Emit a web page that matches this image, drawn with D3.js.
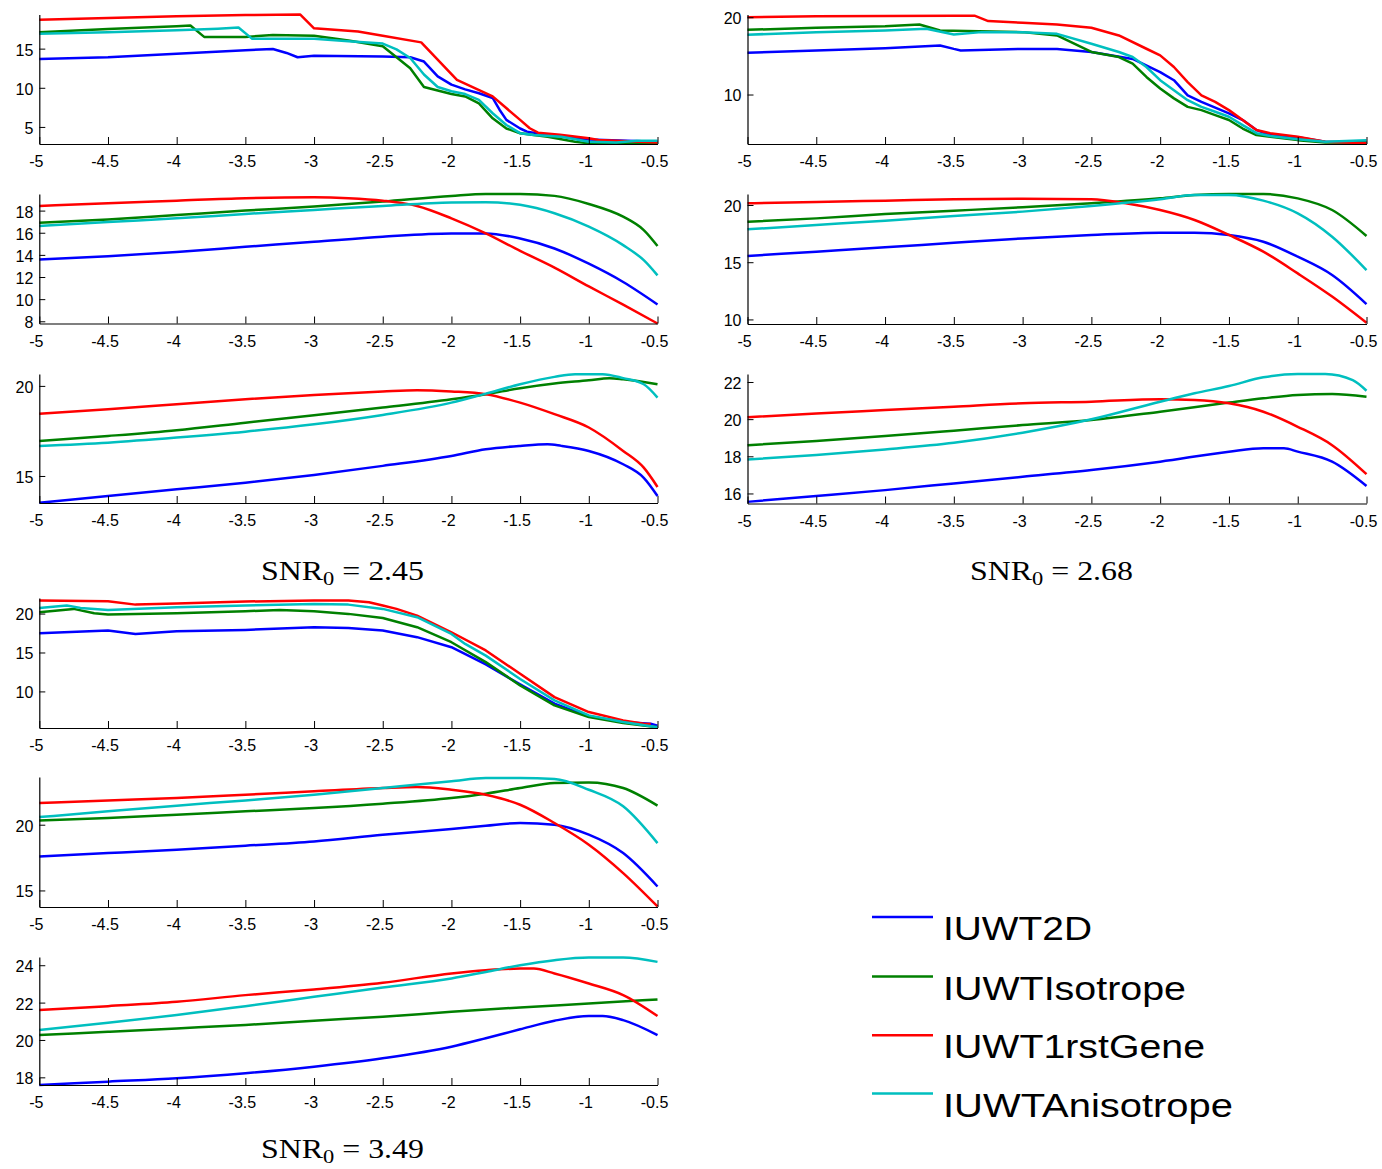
<!DOCTYPE html>
<html><head><meta charset="utf-8">
<script src="https://cdn.jsdelivr.net/npm/d3@7"></script>
<style>
html,body{margin:0;padding:0;background:#fff;}
svg{display:block;}
.tick text{font-family:"Liberation Sans",Arial,sans-serif;font-size:16px;fill:#000;}
</style></head><body>
<svg id="chart" width="1382" height="1169"></svg>
<script>
// ---------------- DATA ----------------
const seriesNames = ["IUWT2D", "IUWTIsotrope", "IUWT1rstGene", "IUWTAnisotrope"];
const xTicks = [-5, -4.5, -4, -3.5, -3, -2.5, -2, -1.5, -1, -0.5];
const snrLabels = ["2.45", "2.68", "3.49"];

// SNR0 = 2.45, panel A
const a245_2D = [[-5,13.68],[-4.5,13.9],[-4,14.35],[-3.5,14.8],[-3.3,14.95],[-3.2,14.45],[-3.12,13.9],[-3.0,14.1],[-2.5,14.0],[-2.3,13.9],[-2.2,13.35],[-2.1,11.45],[-2.0,10.4],[-1.9,9.8],[-1.8,9.3],[-1.7,8.7],[-1.65,7.2],[-1.6,5.9],[-1.5,4.8],[-1.45,4.4],[-1.3,3.97],[-1.0,3.4],[-0.5,3.1]];
const a245_Iso = [[-5,17.1],[-4.5,17.5],[-4,17.85],[-3.9,17.95],[-3.8,16.5],[-3.5,16.5],[-3.3,16.75],[-3,16.65],[-2.75,16.05],[-2.5,15.3],[-2.42,14.2],[-2.3,12.5],[-2.2,10.1],[-2.1,9.65],[-2,9.2],[-1.9,8.9],[-1.8,8.0],[-1.7,6.1],[-1.6,4.8],[-1.5,4.2],[-1.3,3.75],[-1.1,3.1],[-1,2.9],[-0.5,2.9]];
const a245_1rst = [[-5,18.7],[-4,19.15],[-3.5,19.3],[-3.1,19.35],[-3.0,17.6],[-2.68,17.2],[-2.5,16.65],[-2.22,15.8],[-1.96,11.0],[-1.83,9.95],[-1.7,8.9],[-1.5,5.9],[-1.43,4.83],[-1.37,4.27],[-1.21,4.0],[-1.0,3.55],[-0.93,3.33],[-0.5,3.0]];
const a245_Ani = [[-5,16.9],[-4.5,17.1],[-4,17.35],[-3.7,17.55],[-3.55,17.7],[-3.45,16.25],[-3,16.25],[-2.75,15.95],[-2.5,15.65],[-2.4,14.9],[-2.3,13.8],[-2.2,11.7],[-2.1,10.1],[-2,9.55],[-1.9,9.2],[-1.8,8.45],[-1.7,6.75],[-1.6,5.25],[-1.5,4.2],[-1.4,3.97],[-1.2,3.75],[-1,3.1],[-0.8,3.0],[-0.65,3.25],[-0.5,3.25]];

// SNR0 = 2.45, panel B
const b245_2D = [[-5,13.58],[-4.5,13.88],[-4,14.27],[-3.5,14.73],[-3,15.18],[-2.5,15.64],[-2,15.94],[-1.75,15.94],[-1.5,15.48],[-1.25,14.58],[-1,13.2],[-0.75,11.55],[-0.5,9.52]];
const b245_Iso = [[-5,16.9],[-4.5,17.2],[-4,17.6],[-3.5,18.0],[-3,18.36],[-2.5,18.82],[-2,19.33],[-1.75,19.5],[-1.5,19.5],[-1.25,19.33],[-1,18.6],[-0.75,17.45],[-0.6,16.24],[-0.5,14.8]];
const b245_1rst = [[-5,18.42],[-4.5,18.67],[-4,18.9],[-3.5,19.12],[-3,19.2],[-2.75,19.12],[-2.5,18.9],[-2.25,18.42],[-2,17.3],[-1.75,15.94],[-1.5,14.36],[-1.25,12.85],[-1,11.15],[-0.75,9.5],[-0.5,7.8]];
const b245_Ani = [[-5,16.6],[-4.5,16.97],[-4,17.3],[-3.5,17.7],[-3,18.06],[-2.5,18.42],[-2,18.73],[-1.75,18.76],[-1.5,18.52],[-1.25,17.76],[-1,16.55],[-0.75,14.88],[-0.6,13.52],[-0.5,12.15]];

// SNR0 = 2.45, panel C
const c245_2D = [[-5,13.52],[-4.5,13.89],[-4,14.26],[-3.5,14.63],[-3,15.06],[-2.5,15.56],[-2,16.11],[-1.75,16.48],[-1.5,16.67],[-1.3,16.76],[-1.2,16.67],[-1,16.39],[-0.75,15.65],[-0.6,14.9],[-0.5,13.89]];
const c245_Iso = [[-5,16.94],[-4.5,17.22],[-4,17.54],[-3.5,17.96],[-3,18.37],[-2.5,18.8],[-2,19.26],[-1.75,19.54],[-1.5,19.87],[-1.25,20.13],[-1,20.31],[-0.85,20.43],[-0.75,20.37],[-0.5,20.09]];
const c245_1rst = [[-5,18.46],[-4.5,18.7],[-4,18.98],[-3.5,19.26],[-3,19.5],[-2.5,19.69],[-2.25,19.76],[-2,19.69],[-1.75,19.54],[-1.5,19.07],[-1.25,18.43],[-1,17.69],[-0.75,16.39],[-0.6,15.46],[-0.5,14.39]];
const c245_Ani = [[-5,16.67],[-4.5,16.85],[-4,17.13],[-3.5,17.46],[-3,17.87],[-2.5,18.39],[-2,19.07],[-1.75,19.57],[-1.5,20.09],[-1.25,20.5],[-1.1,20.65],[-0.9,20.65],[-0.75,20.43],[-0.6,20.09],[-0.5,19.35]];

// SNR0 = 2.68, panel A
const a268_2D = [[-5,15.4],[-4.5,15.7],[-4,16.0],[-3.6,16.35],[-3.5,15.9],[-3.45,15.7],[-3,15.9],[-2.75,15.9],[-2.5,15.5],[-2.2,14.6],[-2,12.9],[-1.9,11.85],[-1.8,9.9],[-1.7,9.05],[-1.5,7.55],[-1.4,6.7],[-1.3,5.4],[-1.2,4.76],[-1,4.46],[-0.8,3.9],[-0.5,3.8]];
const a268_Iso = [[-5,18.37],[-4.5,18.63],[-4,18.84],[-3.75,19.06],[-3.6,18.28],[-3,18.07],[-2.75,17.64],[-2.5,15.5],[-2.3,14.85],[-2.2,14.0],[-2.1,12.27],[-2,10.77],[-1.9,9.5],[-1.8,8.4],[-1.7,7.98],[-1.6,7.34],[-1.5,6.7],[-1.4,5.6],[-1.3,4.76],[-1.2,4.55],[-1,4.1],[-0.8,3.8],[-0.5,3.8]];
const a268_1rst = [[-5,20.0],[-4.5,20.13],[-4,20.17],[-3.5,20.2],[-3.35,20.2],[-3.25,19.5],[-3,19.27],[-2.75,19.05],[-2.5,18.63],[-2.3,17.64],[-2.1,15.92],[-2,15.06],[-1.9,13.56],[-1.8,11.6],[-1.7,9.9],[-1.6,9.05],[-1.5,7.98],[-1.4,6.7],[-1.3,5.4],[-1.2,5.0],[-1,4.55],[-0.8,3.9],[-0.5,3.7]];
const a268_Ani = [[-5,17.73],[-4.5,18.07],[-4,18.28],[-3.7,18.5],[-3.5,17.77],[-3.3,18.07],[-3,18.07],[-2.75,17.85],[-2.5,16.57],[-2.3,15.5],[-2.2,14.85],[-2.1,13.56],[-2,11.85],[-1.9,10.56],[-1.8,9.27],[-1.7,8.4],[-1.6,7.77],[-1.5,7.12],[-1.4,6.05],[-1.3,5.0],[-1.2,4.64],[-1,4.2],[-0.8,3.9],[-0.5,4.1]];

// SNR0 = 2.68, panel B
const b268_2D = [[-5,15.54],[-4.5,15.92],[-4,16.3],[-3.5,16.7],[-3,17.08],[-2.5,17.38],[-2,17.58],[-1.75,17.58],[-1.5,17.38],[-1.25,16.79],[-1,15.48],[-0.75,13.88],[-0.5,11.34]];
const b268_Iso = [[-5,18.54],[-4.5,18.83],[-4,19.21],[-3.5,19.5],[-3,19.8],[-2.5,20.15],[-2,20.58],[-1.75,20.87],[-1.5,20.96],[-1.25,20.96],[-1,20.58],[-0.75,19.56],[-0.5,17.29]];
const b268_1rst = [[-5,20.15],[-4.5,20.26],[-4,20.38],[-3.5,20.5],[-3,20.55],[-2.5,20.5],[-2.25,20.15],[-2,19.56],[-1.75,18.69],[-1.5,17.38],[-1.25,15.92],[-1,14.02],[-0.75,12.0],[-0.5,9.71]];
const b268_Ani = [[-5,17.87],[-4.5,18.25],[-4,18.63],[-3.5,19.04],[-3,19.42],[-2.5,19.91],[-2,20.5],[-1.75,20.87],[-1.5,20.87],[-1.25,20.38],[-1,19.27],[-0.75,17.23],[-0.5,14.31]];

// SNR0 = 2.68, panel C
const c268_2D = [[-5,15.55],[-4.5,15.86],[-4,16.18],[-3.5,16.54],[-3,16.9],[-2.5,17.26],[-2,17.71],[-1.5,18.25],[-1.25,18.43],[-1.1,18.43],[-1,18.25],[-0.75,17.71],[-0.5,16.4]];
const c268_Iso = [[-5,18.6],[-4.5,18.83],[-4,19.09],[-3.5,19.38],[-3,19.68],[-2.5,19.95],[-2,20.4],[-1.5,20.89],[-1.25,21.12],[-1,21.3],[-0.75,21.35],[-0.5,21.21]];
const c268_1rst = [[-5,20.1],[-4.5,20.31],[-4,20.49],[-3.5,20.67],[-3,20.85],[-2.5,20.94],[-2,21.07],[-1.75,21.03],[-1.5,20.85],[-1.25,20.4],[-1,19.59],[-0.75,18.6],[-0.5,17.04]];
const c268_Ani = [[-5,17.83],[-4.5,18.07],[-4,18.37],[-3.5,18.73],[-3,19.27],[-2.5,19.99],[-2,20.94],[-1.75,21.39],[-1.5,21.78],[-1.25,22.25],[-1,22.43],[-0.8,22.43],[-0.6,22.1],[-0.5,21.53]];

// SNR0 = 3.49, panel A
const a349_2D = [[-5,17.48],[-4.5,17.82],[-4.3,17.39],[-4,17.74],[-3.5,17.9],[-3,18.25],[-2.75,18.16],[-2.5,17.82],[-2.25,16.97],[-2,15.68],[-1.75,13.46],[-1.5,10.9],[-1.25,8.42],[-1,6.8],[-0.75,6.07],[-0.55,5.85],[-0.5,5.6]];
const a349_Iso = [[-5,20.17],[-4.75,20.6],[-4.6,20.04],[-4.5,19.87],[-4,20.04],[-3.5,20.3],[-3.25,20.47],[-3,20.3],[-2.75,19.96],[-2.5,19.44],[-2.25,18.25],[-2,16.32],[-1.75,13.76],[-1.5,10.77],[-1.25,8.2],[-1,6.7],[-0.75,5.94],[-0.5,5.4]];
const a349_1rst = [[-5,21.67],[-4.5,21.58],[-4.3,21.15],[-4,21.3],[-3.5,21.55],[-3,21.67],[-2.75,21.67],[-2.6,21.45],[-2.5,21.03],[-2.4,20.6],[-2.25,19.74],[-2,17.6],[-1.75,15.26],[-1.5,12.26],[-1.25,9.27],[-1,7.35],[-0.75,6.28],[-0.6,5.85],[-0.55,5.8]];
const a349_Ani = [[-5,20.73],[-4.8,21.03],[-4.7,20.73],[-4.5,20.47],[-4,20.8],[-3.5,21.03],[-3,21.24],[-2.75,21.15],[-2.5,20.6],[-2.25,19.53],[-2,17.39],[-1.9,16.1],[-1.75,14.6],[-1.5,11.6],[-1.25,8.85],[-1,6.92],[-0.75,6.07],[-0.5,5.4]];

// SNR0 = 3.49, panel B
const b349_2D = [[-5,17.59],[-4.5,17.84],[-4,18.1],[-3.5,18.4],[-3,18.73],[-2.5,19.24],[-2,19.67],[-1.75,19.92],[-1.5,20.13],[-1.25,20.0],[-1,19.24],[-0.75,17.84],[-0.5,15.3]];
const b349_Iso = [[-5,20.33],[-4.5,20.51],[-4,20.76],[-3.5,21.02],[-3,21.27],[-2.5,21.6],[-2,22.03],[-1.75,22.36],[-1.5,22.79],[-1.25,23.17],[-1,23.22],[-0.75,22.79],[-0.5,21.45]];
const b349_1rst = [[-5,21.65],[-4.5,21.85],[-4,22.03],[-3.5,22.28],[-3,22.54],[-2.5,22.79],[-2.25,22.87],[-2,22.66],[-1.75,22.28],[-1.5,21.52],[-1.25,20.13],[-1,18.48],[-0.75,16.32],[-0.5,13.78]];
const b349_Ani = [[-5,20.58],[-4.5,21.02],[-4,21.45],[-3.5,21.85],[-3,22.28],[-2.5,22.79],[-2,23.3],[-1.75,23.55],[-1.5,23.55],[-1.25,23.48],[-1,22.66],[-0.75,21.4],[-0.5,18.6]];

// SNR0 = 3.49, panel C
const c349_2D = [[-5,17.59],[-4.5,17.77],[-4,17.95],[-3.5,18.22],[-3,18.57],[-2.5,19.02],[-2,19.64],[-1.75,20.09],[-1.5,20.57],[-1.25,21.03],[-1,21.28],[-0.9,21.28],[-0.75,21.06],[-0.5,20.26]];
const c349_Iso = [[-5,20.26],[-4.5,20.44],[-4,20.62],[-3.5,20.8],[-3,21.03],[-2.5,21.24],[-2,21.51],[-1.5,21.74],[-1,21.95],[-0.5,22.17]];
const c349_1rst = [[-5,21.6],[-4.5,21.81],[-4,22.04],[-3.5,22.4],[-3,22.7],[-2.5,23.06],[-2,23.56],[-1.75,23.73],[-1.5,23.82],[-1.4,23.82],[-1.25,23.56],[-1,23.02],[-0.75,22.4],[-0.5,21.28]];
const c349_Ani = [[-5,20.53],[-4.5,20.92],[-4,21.33],[-3.5,21.81],[-3,22.31],[-2.5,22.81],[-2,23.29],[-1.75,23.64],[-1.5,24.0],[-1.25,24.27],[-1,24.41],[-0.75,24.41],[-0.5,24.18]];

// y tick values per panel
const yt_a245 = [5, 10, 15], yt_b245 = [8, 10, 12, 14, 16, 18], yt_c245 = [15, 20];
const yt_a268 = [10, 20], yt_b268 = [10, 15, 20], yt_c268 = [16, 18, 20, 22];
const yt_a349 = [10, 15, 20], yt_b349 = [15, 20], yt_c349 = [18, 20, 22, 24];
// y limits per panel
const yl_a245 = [2.82, 19.36], yl_b245 = [7.8, 19.5], yl_c245 = [13.5, 20.66];
const yl_a268 = [3.6, 20.35], yl_b268 = [9.6, 20.96], yl_c268 = [15.46, 22.43];
const yl_a349 = [5.3, 22.0], yl_b349 = [13.74, 23.63], yl_c349 = [17.59, 24.44];

// ---------------- LAYOUT / STYLE ----------------
const colors = ["#0000ff", "#008000", "#ff0000", "#00bfbf"];
const colRange = [[39.3, 657.5], [747.5, 1366.5]];
const panels = [
  {col:0, top:14.5, bottom:144,  yl:yl_a245, yt:yt_a245, s:[a245_2D,a245_Iso,a245_1rst,a245_Ani], smooth:false},
  {col:0, top:194,  bottom:323.5,yl:yl_b245, yt:yt_b245, s:[b245_2D,b245_Iso,b245_1rst,b245_Ani], smooth:true},
  {col:0, top:374,  bottom:503,  yl:yl_c245, yt:yt_c245, s:[c245_2D,c245_Iso,c245_1rst,c245_Ani], smooth:true},
  {col:1, top:14.5, bottom:144,  yl:yl_a268, yt:yt_a268, s:[a268_2D,a268_Iso,a268_1rst,a268_Ani], smooth:false},
  {col:1, top:194,  bottom:324,  yl:yl_b268, yt:yt_b268, s:[b268_2D,b268_Iso,b268_1rst,b268_Ani], smooth:true},
  {col:1, top:374,  bottom:503.5,yl:yl_c268, yt:yt_c268, s:[c268_2D,c268_Iso,c268_1rst,c268_Ani], smooth:true},
  {col:0, top:598,  bottom:728,  yl:yl_a349, yt:yt_a349, s:[a349_2D,a349_Iso,a349_1rst,a349_Ani], smooth:false},
  {col:0, top:777,  bottom:907,  yl:yl_b349, yt:yt_b349, s:[b349_2D,b349_Iso,b349_1rst,b349_Ani], smooth:true},
  {col:0, top:957,  bottom:1085, yl:yl_c349, yt:yt_c349, s:[c349_2D,c349_Iso,c349_1rst,c349_Ani], smooth:true}
];

const svg = d3.select("#chart");

panels.forEach((p, i) => {
  const x = d3.scaleLinear().domain([-5, -0.5]).range(colRange[p.col]);
  const y = d3.scaleLinear().domain(p.yl).range([p.bottom, p.top]);
  const g = svg.append("g").attr("class", "panel");

  const line = d3.line()
    .x(d => x(d[0])).y(d => y(d[1]))
    .curve(p.smooth ? d3.curveMonotoneX : d3.curveLinear);

  p.s.forEach((data, k) => {
    g.append("path").datum(data)
      .attr("fill", "none")
      .attr("stroke", colors[k])
      .attr("stroke-width", 2.5)
      .attr("stroke-linejoin", "round")
      .attr("d", line);
  });

  const xa = g.append("g").attr("transform", `translate(0,${p.bottom})`)
    .call(d3.axisBottom(x).tickValues(xTicks).tickFormat(d => String(d))
      .tickSizeInner(-7).tickSizeOuter(0).tickPadding(12));
  xa.selectAll(".tick text").attr("dx", -3.5);

  const ya = g.append("g").attr("transform", `translate(${colRange[p.col][0]},0)`)
    .call(d3.axisLeft(y).tickValues(p.yt).tickFormat(d => String(d))
      .tickSizeInner(-6).tickSizeOuter(0).tickPadding(6));
  ya.selectAll(".tick text").attr("dy", "0.4em");
  g.selectAll(".domain").attr("stroke", "#000").attr("stroke-width", 1.2);
});

// SNR captions
const snrPos = [[261, 580], [970, 580], [261, 1158]];
snrLabels.forEach((v, i) => {
  const t = svg.append("text")
    .attr("x", snrPos[i][0]).attr("y", snrPos[i][1])
    .attr("textLength", 163).attr("lengthAdjust", "spacingAndGlyphs")
    .style("font-family", '"Liberation Serif","DejaVu Serif",serif')
    .style("font-size", "27px").style("fill", "#000");
  t.append("tspan").text("SNR");
  t.append("tspan").attr("dy", 5).style("font-size", "19px").text("0");
  t.append("tspan").attr("dy", -5).text("\u00A0=\u00A0" + v);
});

// Legend
const legY = [917, 976.5, 1035.3, 1093.5];
const legW = [149, 243, 262, 290];
seriesNames.forEach((name, k) => {
  svg.append("line")
    .attr("x1", 872).attr("x2", 933)
    .attr("y1", legY[k]).attr("y2", legY[k])
    .attr("stroke", colors[k]).attr("stroke-width", 2.5);
  svg.append("text")
    .attr("x", 943).attr("y", legY[k] + 23)
    .attr("textLength", legW[k]).attr("lengthAdjust", "spacingAndGlyphs")
    .style("font-family", '"Liberation Sans",Arial,sans-serif')
    .style("font-size", "33px").style("fill", "#000")
    .text(name);
});
</script></body></html>
